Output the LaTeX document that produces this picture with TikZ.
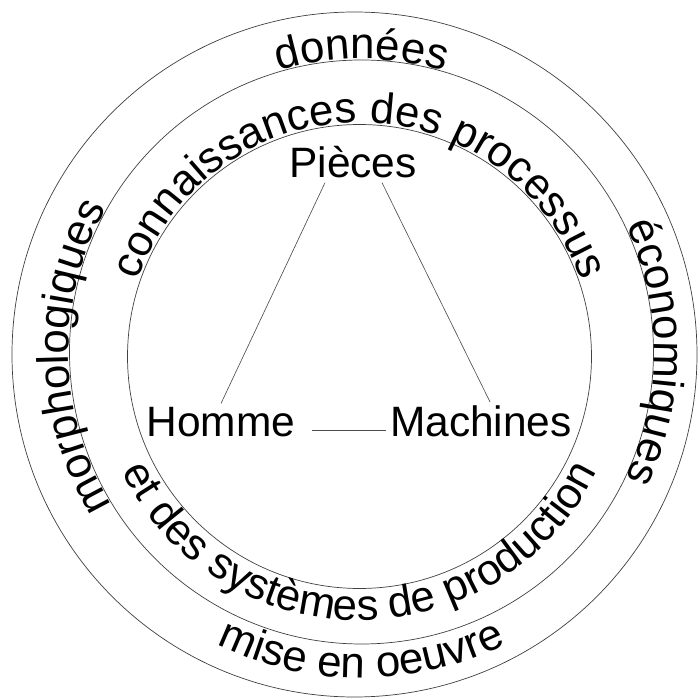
\documentclass[tikz,border=0pt]{standalone}
\usepackage{fontspec}
\setmainfont{Liberation Sans}
\usetikzlibrary{decorations.text}
\newcommand{\labelfont}{\fontsize{30.2}{36}\selectfont}
\newcommand{\innerfont}{\fontsize{31}{37}\selectfont}
\newcommand{\outerfont}{\fontsize{31.2}{37}\selectfont}

\begin{document}
\begin{tikzpicture}[x=0.025cm, y=0.025cm,
  ring/.style={draw=black!75, line width=0.5pt},
  lbl/.style={font=\labelfont, inner sep=0.1cm, anchor=base},
  link/.style={draw=black!70, line width=0.45pt},
  curved/.style={decorate, decoration={text along path, text align=center, text={#1}}}
]
\useasboundingbox (0,0) rectangle (698,700);

\foreach \cx/\cy/\r in {354.5/345.5/342.5, 361.5/348/292, 359.5/343.5/232}
  \draw[ring] (\cx,\cy) circle[radius=\r];

\path[curved={|\outerfont|données}] (361.5,348) ++(140:293) arc[start angle=140, end angle=40, radius=293];
\path[curved={|\outerfont|morphologiques}] (361.5,348) ++(245:293) arc[start angle=245, end angle=117, radius=293];
\path[curved={|\outerfont|économiques}] (361.5,348) ++(62:293) arc[start angle=62, end angle=-62, radius=293];
\path[curved={|\outerfont|mise en oeuvre}] (361.5,348) ++(215:326) arc[start angle=215, end angle=325, radius=326];

\path[curved={|\innerfont|connaissances des processus}] (359.5,343.5) ++(185:234) arc[start angle=185, end angle=-5, radius=234];
\path[curved={|\innerfont|et des systèmes de production}] (359.5,343.5) ++(180:264) arc[start angle=180, end angle=360, radius=264];

\node[lbl] (pieces) at (353,522) {Pièces};
\node[lbl] (homme) at (221,263) {Homme};
\node[lbl] (machines) at (481,263) {Machines};

\draw[link] ([xshift=-0.7cm]pieces.south) -- (homme.north);
\draw[link] ([xshift=0.725cm]pieces.south) -- ([xshift=0.225cm]machines.north);
\draw[link] ([xshift=0.3cm, yshift=0.175cm]homme.base east) -- ([yshift=0.175cm]machines.base west);
\end{tikzpicture}
\end{document}
